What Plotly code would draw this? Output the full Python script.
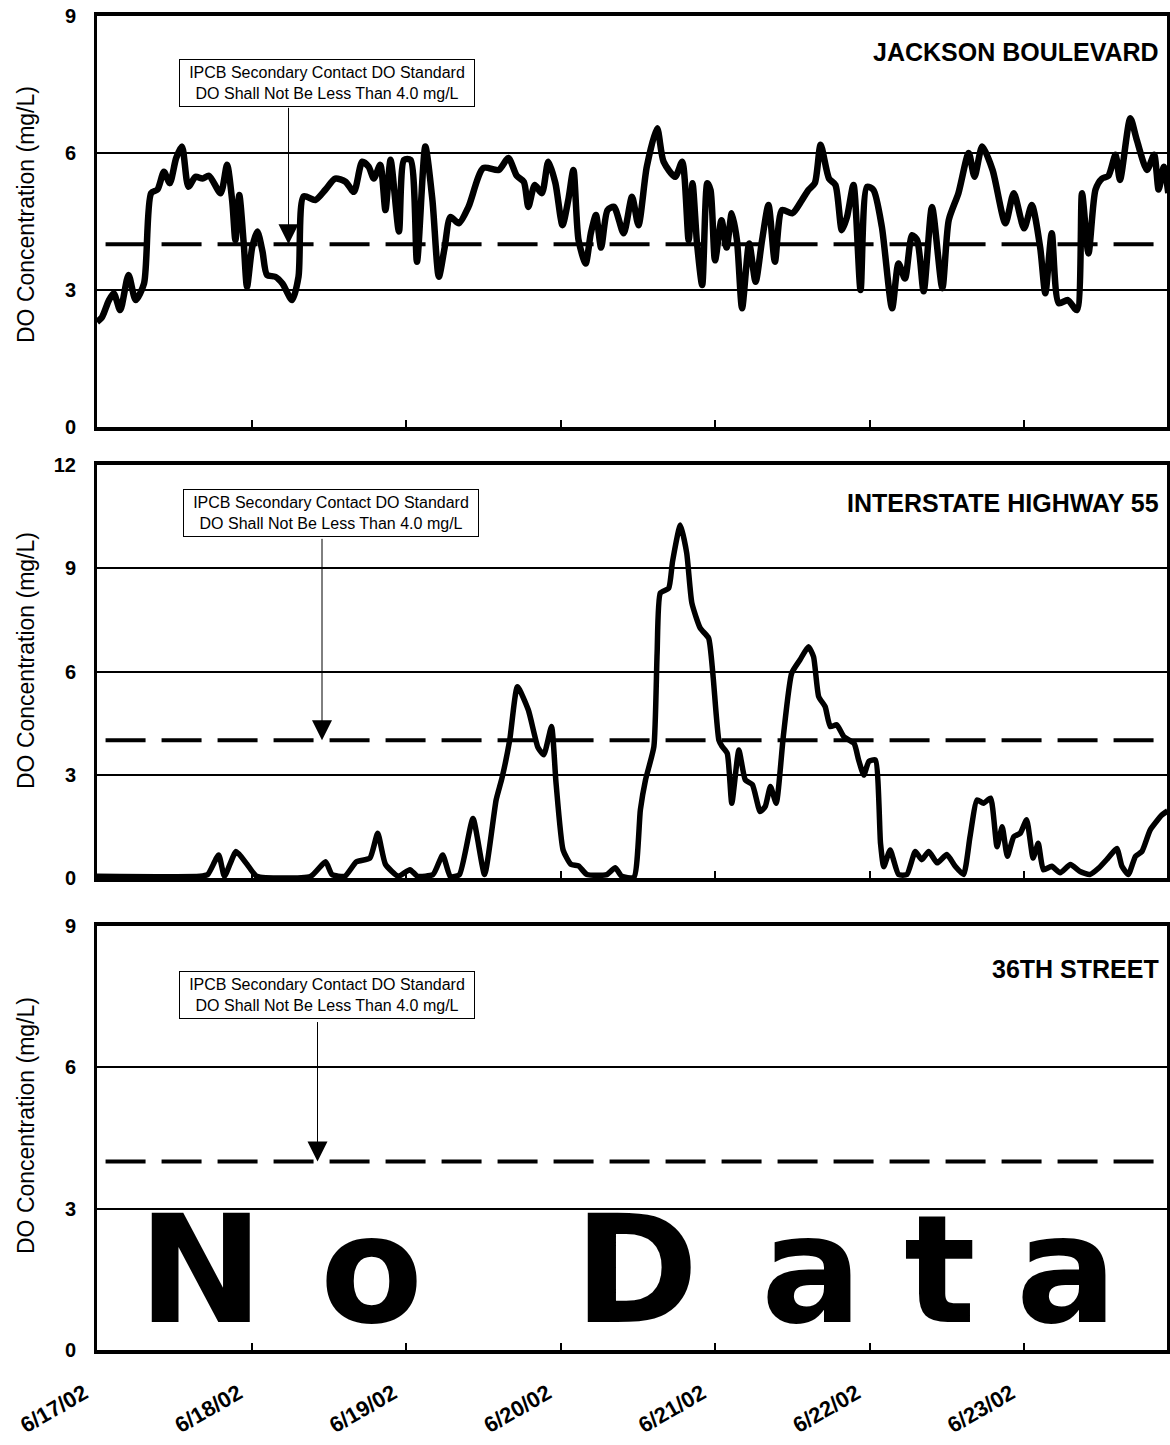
import pandas as pd
import plotly.graph_objects as go

# ---------------- data ----------------
START = pd.Timestamp("2002-06-17 00:00")
END_HOURS = 166.2

# Jackson Boulevard: hours since 6/17/02 00:00 and DO (mg/L)
jackson_hours = [0.0, 0.8, 1.8, 2.6, 3.6, 4.9, 6.0, 7.3, 8.4, 9.4, 10.4, 11.3, 12.3, 13.2, 14.2,
                 15.3, 16.4, 17.4, 19.2, 20.2, 21.0, 21.5, 22.1, 22.8, 23.3, 24.1, 24.9, 25.7,
                 26.4, 27.7, 28.8, 30.3, 31.3, 32.1, 33.9, 35.5, 37.0, 38.6, 39.9, 41.2, 42.2,
                 43.0, 44.0, 44.8, 45.6, 46.9, 47.7, 48.7, 49.7, 51.0, 52.1, 53.1, 54.0, 54.9,
                 56.2, 57.7, 60.0, 62.4, 63.9, 65.2, 66.3, 67.0, 68.0, 69.1, 70.1, 71.2, 72.3,
                 73.2, 74.0, 74.8, 75.9, 76.7, 77.5, 78.3, 79.3, 80.3, 81.8, 83.1, 84.1, 85.4,
                 87.0, 88.0, 89.8, 90.9, 91.9, 92.5, 93.2, 94.0, 94.8, 95.3, 96.0, 97.0, 97.8,
                 98.6, 99.4, 100.2, 101.3, 102.3, 103.3, 104.3, 105.3, 106.4, 108.0, 109.5,
                 110.5, 111.5, 112.4, 113.7, 114.7, 115.7, 116.5, 117.5, 118.6, 119.6, 120.6,
                 121.9, 123.5, 124.5, 125.5, 126.6, 127.4, 128.4, 129.7, 131.3, 132.3, 133.8,
                 135.4, 136.3, 137.5, 139.1, 141.1, 142.4, 144.0, 145.2, 146.5, 147.3, 148.3,
                 149.4, 150.8, 152.2, 153.0, 154.0, 155.1, 156.1, 157.1, 158.2, 158.9, 160.5,
                 161.5, 163.1, 164.2, 164.9, 165.7, 166.4]
jackson_do = [2.30, 2.41, 2.76, 2.93, 2.56, 3.33, 2.78, 3.14, 5.12, 5.20, 5.59, 5.34, 5.89, 6.14, 5.26,
              5.48, 5.44, 5.50, 5.12, 5.74, 4.95, 4.09, 5.08, 4.00, 3.07, 3.93, 4.28, 3.85,
              3.33, 3.29, 3.14, 2.78, 3.29, 5.05, 4.97, 5.20, 5.44, 5.37, 5.15, 5.81, 5.70,
              5.44, 5.74, 4.75, 5.85, 4.28, 5.85, 5.85, 3.62, 6.14, 4.97, 3.29, 3.93, 4.60,
              4.46, 4.82, 5.67, 5.63, 5.89, 5.50, 5.37, 4.82, 5.30, 5.12, 5.81, 5.34, 4.42,
              4.97, 5.63, 4.09, 3.58, 4.24, 4.64, 3.93, 4.75, 4.82, 4.24, 5.04, 4.42, 5.70,
              6.54, 5.81, 5.48, 5.81, 4.09, 5.34, 4.02, 3.11, 5.34, 5.19, 3.65, 4.53, 3.93,
              4.68, 4.09, 2.60, 4.02, 3.18, 4.09, 4.86, 3.62, 4.75, 4.68, 4.97,
              5.19, 5.34, 6.18, 5.44, 5.30, 4.31, 4.60, 5.30, 3.00, 5.26, 5.19,
              4.39, 2.60, 3.58, 3.25, 4.20, 4.09, 2.97, 4.82, 3.04, 4.53, 5.12,
              6.00, 5.48, 6.14, 5.63, 4.46, 5.12, 4.35, 4.86, 3.93, 2.93, 4.24,
              2.71, 2.78, 2.56, 5.12, 3.80, 5.20, 5.44, 5.50, 5.96, 5.41, 6.76,
              6.29, 5.63, 5.96, 5.20, 5.70, 5.12]

# Interstate Highway 55
i55_hours = [0.0, 16.0, 17.2, 18.9, 19.8, 21.6, 23.3, 24.8, 33.2, 35.5, 36.5, 38.5, 40.3, 42.4,
             43.6, 44.8, 46.8, 48.6, 49.8, 52.2, 53.7, 54.9, 56.3, 58.4, 60.2, 62.0, 62.9,
             64.1, 65.3, 67.0, 68.5, 69.4, 70.6, 71.3, 72.4, 73.6, 74.8, 76.1, 79.2, 80.5,
             81.5, 83.4, 84.4, 85.2, 86.5, 87.0, 87.5, 88.8, 89.4, 90.6, 91.6, 92.4, 93.7,
             95.0, 95.7, 96.6, 97.1, 97.9, 98.6, 99.7, 100.7, 101.8, 103.0, 103.8, 104.6,
             105.5, 106.6, 107.9, 109.2, 110.5, 111.3, 112.1, 113.1, 113.9, 114.9, 116.0,
             117.6, 118.3, 119.1, 119.9, 120.9, 121.7, 122.2, 123.2, 124.5, 125.8, 127.1,
             128.1, 129.2, 130.5, 132.0, 133.3, 134.6, 135.6, 136.7, 137.7, 138.8, 139.8,
             140.6, 141.4, 142.4, 143.4, 144.4, 145.4, 146.2, 147.0, 148.3, 149.6, 151.2,
             152.7, 154.2, 155.6, 157.0, 158.4, 159.2, 160.2, 161.3, 162.3, 163.6, 165.4,
             166.3]
i55_do = [0.05, 0.05, 0.10, 0.67, 0.05, 0.77, 0.40, 0.05, 0.05, 0.47, 0.10, 0.05, 0.47, 0.58,
          1.30, 0.40, 0.05, 0.24, 0.05, 0.10, 0.67, 0.03, 0.10, 1.73, 0.10, 2.27, 2.90,
          4.00, 5.56, 4.88, 3.79, 3.58, 4.40, 2.76, 0.81, 0.40, 0.35, 0.10, 0.10, 0.30,
          0.05, 0.02, 1.98, 2.85, 3.82, 6.53, 8.28, 8.42, 9.20, 10.26, 9.44, 7.99, 7.26,
          6.97, 5.85, 4.00, 3.82, 3.62, 2.17, 3.72, 2.85, 2.71, 1.93, 2.08, 2.66,
          2.17, 4.11, 5.95, 6.34, 6.72, 6.43, 5.27, 4.98, 4.40, 4.45, 4.11,
          3.91, 3.43, 2.99, 3.39, 3.43, 1.01, 0.33, 0.81, 0.10, 0.10, 0.77,
          0.53, 0.77, 0.44, 0.68, 0.34, 0.10, 1.20, 2.27, 2.17, 2.32, 0.91,
          1.49, 0.63, 1.20, 1.30, 1.69, 0.58, 1.01, 0.24, 0.34, 0.15, 0.39,
          0.19, 0.10, 0.29, 0.57, 0.86, 0.34, 0.10, 0.63, 0.77, 1.40, 1.83,
          1.95]

STANDARD_DO = 4.0
tick_dates = ["2002-06-17", "2002-06-18", "2002-06-19", "2002-06-20",
              "2002-06-21", "2002-06-22", "2002-06-23"]
tick_labels = ["6/17/02", "6/18/02", "6/19/02", "6/20/02", "6/21/02", "6/22/02", "6/23/02"]

panel_titles = ["JACKSON BOULEVARD", "INTERSTATE HIGHWAY 55", "36TH STREET"]
y_max = [9, 12, 9]
y_ticks = [[0, 3, 6, 9], [0, 3, 6, 9, 12], [0, 3, 6, 9]]
y_title = "DO Concentration (mg/L)"
standard_text = "IPCB Secondary Contact DO Standard<br>DO Shall Not Be Less Than 4.0 mg/L"
no_data_letters = ["N", "o", "D", "a", "t", "a"]


def t(h):
    return START + pd.Timedelta(hours=h)


# ---------------- layout geometry ----------------
W, H = 1170, 1445
ML, MR, MT, MB = 97, 3, 16, 95
PLOT_H = H - MT - MB
panel_px = [(16, 427), (465, 878), (926, 1350)]


def ydom(top, bot):
    return [(H - MB - bot) / PLOT_H, (H - MB - top) / PLOT_H]


def ypaper(py):
    return (H - MB - py) / PLOT_H


def xpaper(px):
    return (px - ML) / (W - ML - MR)


fig = go.Figure()

fig.add_trace(go.Scatter(
    x=[t(h) for h in jackson_hours], y=jackson_do, mode="lines",
    line=dict(color="black", width=6.5, shape="spline", smoothing=0.7),
    xaxis="x", yaxis="y", showlegend=False, hoverinfo="skip"))

fig.add_trace(go.Scatter(
    x=[t(h) for h in i55_hours], y=i55_do, mode="lines",
    line=dict(color="black", width=5.5, shape="spline", smoothing=0.5),
    xaxis="x2", yaxis="y2", showlegend=False, hoverinfo="skip"))

# empty placeholder for 36th Street (no data)
fig.add_trace(go.Scatter(x=[], y=[], mode="lines", xaxis="x3", yaxis="y3",
                         showlegend=False, hoverinfo="skip"))

layout = dict(
    width=W, height=H,
    margin=dict(l=ML, r=MR, t=MT, b=MB, autoexpand=False),
    paper_bgcolor="white", plot_bgcolor="white",
    font=dict(family="Liberation Sans, Arial, sans-serif", color="black"),
    showlegend=False,
)

for i in range(3):
    sfx = "" if i == 0 else str(i + 1)
    top, bot = panel_px[i]
    layout["xaxis" + sfx] = dict(
        domain=[0, 1], anchor="y" + sfx, type="date", automargin=False,
        range=[t(0), t(END_HOURS)],
        tickvals=tick_dates, ticktext=tick_labels,
        showticklabels=(i == 2), tickangle=-30,
        tickfont=dict(family="Liberation Sans, Arial", size=22, color="black", weight="bold"),
        ticks="inside", ticklen=7, tickwidth=2, tickcolor="black",
        ticklabelstandoff=18, ticklabelshift=-13,
        showline=True, linewidth=4, linecolor="black", mirror=True,
        showgrid=False, zeroline=False,
    )
    layout["yaxis" + sfx] = dict(
        domain=ydom(top, bot), anchor="x" + sfx, automargin=False,
        range=[0, y_max[i]], tickvals=y_ticks[i],
        tickfont=dict(family="Liberation Sans, Arial", size=20, color="black", weight="bold"),
        ticks="", ticklabelstandoff=14,
        showgrid=True, gridcolor="black", gridwidth=2,
        showline=True, linewidth=3, linecolor="black", mirror=True,
        zeroline=False,
    )

fig.update_layout(**layout)

# standard line (dashed) in every panel
for i in range(3):
    sfx = "" if i == 0 else str(i + 1)
    fig.add_shape(type="line", xref=f"x{sfx} domain", yref="y" + sfx,
                  x0=0.008, x1=0.995, y0=STANDARD_DO, y1=STANDARD_DO,
                  line=dict(color="black", width=4, dash="40px,16px"))

annotations = []

# y axis titles
for py in [215, 661, 1126]:
    annotations.append(dict(
        xref="paper", yref="paper", x=xpaper(26), y=ypaper(py),
        text=y_title, textangle=-90, showarrow=False,
        xanchor="center", yanchor="middle",
        font=dict(family="Liberation Sans, Arial", size=23, color="black")))

# panel titles
for title, py in zip(panel_titles, [52, 503, 969]):
    annotations.append(dict(
        xref="paper", yref="paper", x=xpaper(1161), y=ypaper(py),
        text=title, showarrow=False, xanchor="right", yanchor="middle",
        font=dict(family="Liberation Sans, Arial", size=25, color="black", weight="bold")))

# standard boxes + arrows
box_pos = [(35.8, 7.54), (36.35, 10.6), (35.65, 7.53)]
arrow_pos = [(29.75, -138), (34.95, -203), (34.25, -141)]
for i in range(3):
    sfx = "" if i == 0 else str(i + 1)
    bx, by = box_pos[i]
    annotations.append(dict(
        xref="x" + sfx, yref="y" + sfx, x=t(bx), y=by,
        text=standard_text, showarrow=False, align="center",
        xanchor="center", yanchor="middle",
        width=290, height=42, borderpad=2,
        bordercolor="black", borderwidth=1, bgcolor="white",
        font=dict(family="Liberation Sans, Arial", size=16, color="black")))
    ax_h, ay_px = arrow_pos[i]
    annotations.append(dict(
        xref="x" + sfx, yref="y" + sfx, x=t(ax_h), y=STANDARD_DO,
        text="", showarrow=True, ax=0, ay=ay_px,
        arrowhead=2, arrowsize=4, arrowwidth=1, arrowcolor="black", standoff=0))

# "No Data" in the 36th Street panel
letter_px = [201, 372, 637, 811, 940, 1066]
for ch, px in zip(no_data_letters, letter_px):
    annotations.append(dict(
        xref="paper", yref="paper", x=xpaper(px), y=ypaper(1270),
        text=ch, showarrow=False, xanchor="center", yanchor="middle",
        font=dict(family="DejaVu Sans", size=150, color="black", weight="bold")))

fig.update_layout(annotations=annotations)

fig.write_html("out.html", config={"displayModeBar": False},
               post_script="document.body.style.margin='0px';")
